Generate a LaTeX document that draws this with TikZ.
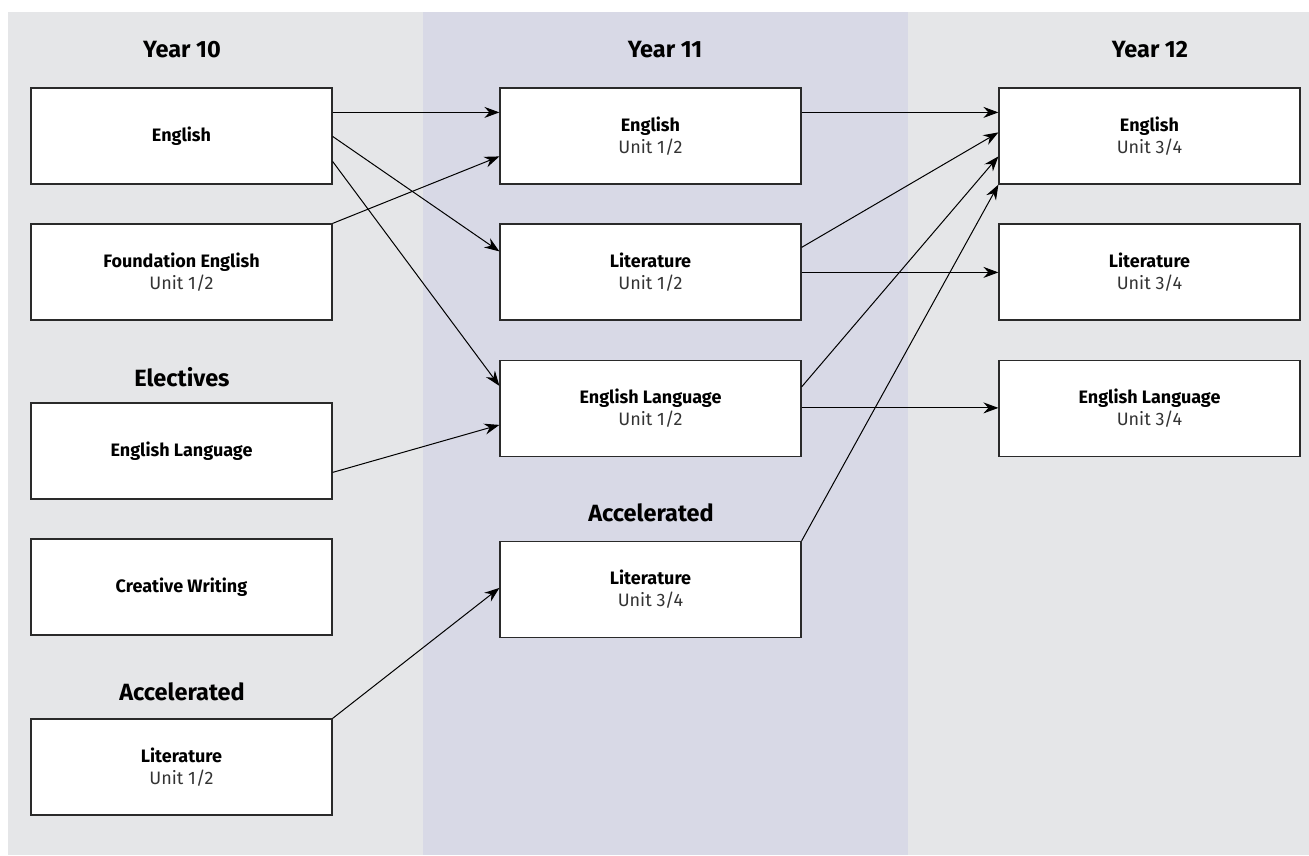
\documentclass[tikz,border=0pt]{standalone}
\usepackage{fontspec}
\setmainfont{Fira Sans}
\usetikzlibrary{arrows.meta,calc}
\definecolor{bggray}{HTML}{E5E6E8}
\definecolor{bgblue}{HTML}{D8D9E6}
\definecolor{boxline}{HTML}{2A2A2A}
\definecolor{unitgray}{HTML}{333333}
\tikzset{
  course/.style={draw=boxline, line width=1.2pt, fill=white, minimum width=301pt, minimum height=96pt, inner sep=0pt, align=center, font=\fontsize{18}{22}\selectfont},
  heading/.style={font=\fontsize{23.5}{26}\selectfont\bfseries, inner sep=0pt},
  link/.style={line width=1pt, -{Stealth[length=15pt,width=11pt,inset=5pt]}}
}
\newcommand{\unitline}[1]{\\{\normalfont\color{unitgray}#1}}
\begin{document}
\begin{tikzpicture}[x=1pt,y=-1pt]
\useasboundingbox (0,0) rectangle (1309,855);
\fill[white] (0,0) rectangle (1309,855);
\fill[bggray] (8,12) rectangle (1309,855);
\fill[bgblue] (423,12) rectangle (908,855);
% headings
\node[heading] (h10) at (182,50) {Year 10};
\node[heading] (h11) at (665,50) {Year 11};
\node[heading] (h12) at (1150,50) {Year 12};
\node[heading] (hel) at (182,377) {Electives};
\node[heading] (hac1) at (182,692) {Accelerated};
\node[heading] (hac2) at (651,513) {Accelerated};
% column 1
\node[course] (a1) at (181.5,136) {\textbf{English}};
\node[course] (a2) at (181.5,272) {\textbf{Foundation English}\unitline{Unit 1/2}};
\node[course] (a3) at (181.5,451) {\textbf{English Language}};
\node[course] (a4) at (181.5,587) {\textbf{Creative Writing}};
\node[course] (a5) at (181.5,767) {\textbf{Literature}\unitline{Unit 1/2}};
% column 2
\node[course] (b1) at (650.5,136) {\textbf{English}\unitline{Unit 1/2}};
\node[course] (b2) at (650.5,272) {\textbf{Literature}\unitline{Unit 1/2}};
\node[course] (b3) at (650.5,408.5) {\textbf{English Language}\unitline{Unit 1/2}};
\node[course] (b4) at (650.5,589.5) {\textbf{Literature}\unitline{Unit 3/4}};
% column 3
\node[course] (c1) at (1149.5,136) {\textbf{English}\unitline{Unit 3/4}};
\node[course] (c2) at (1149.5,272) {\textbf{Literature}\unitline{Unit 3/4}};
\node[course] (c3) at (1149.5,408.5) {\textbf{English Language}\unitline{Unit 3/4}};
% year 10 -> year 11
\draw[link] ($(a1.north east)+(0,25)$) -- ($(b1.north west)+(0,25)$);
\draw[link] ($(a1.north east)+(0,49)$) -- ($(b2.north west)+(0,28)$);
\draw[link] ($(a1.north east)+(0,74)$) -- ($(b3.north west)+(0,26)$);
\draw[link] (a2.north east) -- ($(b1.north west)+(0,69)$);
\draw[link] ($(a3.north east)+(0,70)$) -- ($(b3.north west)+(0,65)$);
\draw[link] (a5.north east) -- ($(b4.north west)+(0,47)$);
% year 11 -> year 12
\draw[link] ($(b1.north east)+(0,25)$) -- ($(c1.north west)+(0,25)$);
\draw[link] ($(b2.north east)+(0,24)$) -- ($(c1.north west)+(0,45)$);
\draw[link] ($(b2.north east)+(0,49)$) -- ($(c2.north west)+(0,49)$);
\draw[link] ($(b3.north east)+(0,27)$) -- ($(c1.north west)+(0,69)$);
\draw[link] ($(b3.north east)+(0,48)$) -- ($(c3.north west)+(0,48)$);
\draw[link] (b4.north east) -- (c1.south west);
\end{tikzpicture}
\end{document}
